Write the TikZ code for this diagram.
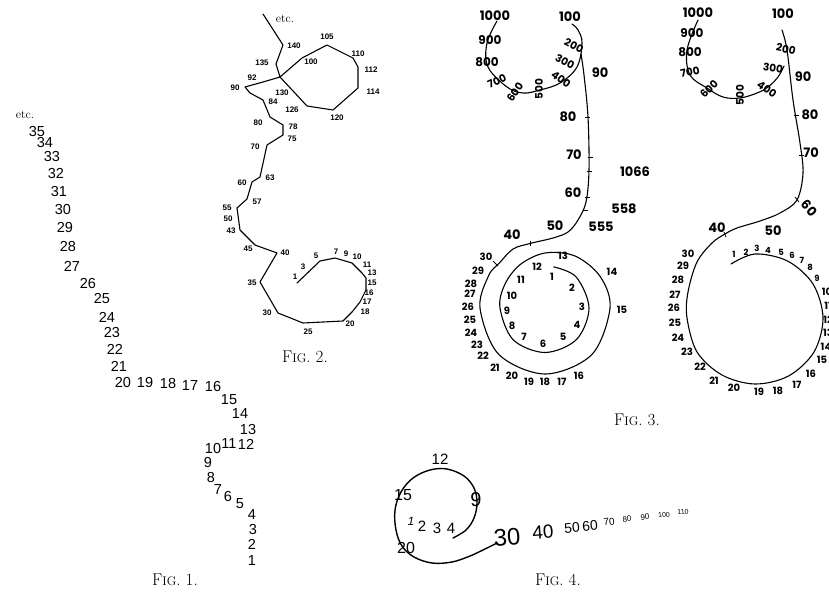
\documentclass[tikz,border=0pt]{standalone}
\usepackage{fontspec}
\newfontfamily\fontA{Liberation Sans}
\newfontfamily\fontC{Poppins}
\begin{document}
\begin{tikzpicture}[x=1pt,y=-1pt,
  lab/.style={inner sep=0pt},
  n1/.style={lab,font=\fontA\fontsize{14.5}{14.5}\selectfont},
  n2/.style={lab,font=\fontA\bfseries\fontsize{8}{8}\selectfont},
  n3/.style={lab,font=\fontC\bfseries\fontsize{10}{10}\selectfont},
  n3s/.style={lab,font=\fontC\bfseries\fontsize{8.5}{8.5}\selectfont},
  n3b/.style={lab,font=\fontC\bfseries\fontsize{13}{13}\selectfont},
  n3r/.style={lab,font=\fontC\bfseries\fontsize{10.5}{10.5}\selectfont},
  etcst/.style={lab,font=\fontsize{12}{12}\selectfont},
  capt/.style={lab,font=\fontsize{17}{17}\selectfont},
  curve/.style={line width=1.1pt,line join=round,line cap=round},
  tick/.style={line width=0.8pt}
]
\useasboundingbox (0,0) rectangle (829,591);
\clip (0,0) rectangle (829,591);

% ---------------- Fig. 1 ----------------
\node[etcst] (fa0) at (25,115) {etc.};
\foreach \t/\x/\y [count=\i] in {35/37/132,34/45/143,33/52/157,32/56/174,31/59/192,30/63/210,29/65/228,28/68/247,27/72/266,26/88/284,25/102/299,24/107/317,23/112/333,22/115/349,21/119/366,20/123/383,19/145/383,18/168/384,17/190/386,16/213/387,15/229/400,14/240/414,13/248/430,12/246/444,11/229/444,10/213/449,9/208/463,8/211/478,7/218/490,6/228/497,5/240/504,4/252/515,3/253/530,2/252/544,1/252/561}
  \node[n1] (fa\i) at (\x,\y) {\t};
\node[capt] (cap1) at (175,580) {F{\fontsize{12.5}{12.5}\selectfont IG}.\hspace{5pt}1.};

% ---------------- Fig. 2 ----------------
\draw[curve] (263,14) -- (283,45) -- (276,64) -- (280,77) -- (302,58) -- (327,45) -- (353,58) -- (358,67) -- (358,88) -- (333,110) -- (307,106) -- (280,77) -- (263,82) -- (245,87) -- (250,93) -- (263,100) -- (270,117) -- (283,125) -- (283,135) -- (267,145) -- (260,177) -- (252,182) -- (247,199) -- (237,208) -- (240,230) -- (255,245) -- (277,253) -- (260,282) -- (278,313) -- (303,323) -- (343,321) -- (352,312) -- (360,302) -- (366,290) -- (366,278) -- (362,273) -- (352,263) -- (335,258) -- (320,261) -- (297,283);
\node[etcst] (fb0) at (285,19) {etc.};
\foreach \t/\x/\y [count=\i] in {140/294/46,135/262/63,100/311/62,105/327/37,110/358/54,112/371/70,114/373/92,120/337/118,126/292/110,130/282/93,92/252/78,90/235/88,84/273/102,80/258/123,78/293/127,75/292/139,70/255/147,63/270/178,60/242/183,57/257/202,55/227/208,50/228/219,43/231/231,45/248/249,40/285/253,35/252/283,30/267/313,25/308/332,20/350/324,1/295/277,3/303/267,5/316/256,7/336/252,9/346/254,10/357/257,11/367/265,13/372/273,15/372/283,16/369/293,17/367/302,18/365/312}
  \node[n2] (fb\i) at (\x,\y) {\t};
\node[capt] (cap2) at (305,357) {F{\fontsize{12.5}{12.5}\selectfont IG}.\hspace{5pt}2.};

% ---------------- Fig. 3 (left) ----------------
\draw[curve] plot[smooth,tension=0.6] coordinates {(497,21) (487,43) (488,67) (507,87) (523,93) (540,90) (560,83) (577,67) (582,43) (578,30) (572,24)};
\draw[curve] plot[smooth,tension=0.55] coordinates {(553.7,266.9) (576.1,276.9) (589,308) (576.5,339.5) (545,352.5) (513.2,339.8) (500,308) (504.7,284.7) (520,264.7) (545,253) (575,256) (600,276.3) (610,308) (591.7,354.7) (545,374) (498.7,354.3) (480,308) (488.7,275.5) (499.7,262.7) (513,249) (530,243.5) (553,238) (568,232) (578,220) (586,202) (589,170) (588,117) (584,75) (581,54)};
\foreach \x/\y [count=\i] in {587/117,590/157,589/171,587/197,585/210}
  \draw[tick] (\x-2.5,\y) -- (\x+2.5,\y);
\draw[tick] (530,241) -- (530,246);
\draw[tick] (493,261) -- (498,266);
\foreach \t/\x/\y [count=\i] in {1/552/277,2/572/288,3/582/307,4/577/325,5/563/337,6/543/344,7/524/337,8/512/326,9/507/311,10/512/296,11/521/280,12/537/267,13/563/256,14/612/272,15/622/310,16/579/376,17/562/382,18/545/382,19/529/382,20/512/376,21/495/368,22/483/356,23/477/345,24/471/333,25/470/320,26/468/307,27/470/294,28/471/284,29/478/271,30/486/257}
  \node[n3] (fl\i) at (\x,\y) {\t};
\foreach \t/\x/\y [count=\i] in {40/512/235,50/555/226,555/601/227,558/624/209,60/573/193,1066/635/172,70/574/155,80/568/117,90/600/73,100/570/17,1000/495/16}
  \node[n3b] (fL\i) at (\x,\y) {\t};
\foreach \t/\x/\y [count=\i] in {900/490/40,800/487/62}
  \node[n3r,font=\fontC\bfseries\fontsize{12}{12}\selectfont] (fM\i) at (\x,\y) {\t};
\foreach \t/\x/\y/\r [count=\i] in {700/497/81/25,600/515/92/55,500/539/89/90,400/561/79/-36,300/565/62/-28,200/574/46/-28}
  \node[n3r,rotate=\r] (fR\i) at (\x,\y) {\t};

% ---------------- Fig. 3 (right) ----------------
\draw[curve] plot[smooth,tension=0.6] coordinates {(698,20) (687,50) (690,75) (707,88) (723,97) (740,98) (757,93) (768,87) (778,77) (784,66)};
\draw[curve] plot[smooth,tension=0.55] coordinates {(731,264) (755,254) (787.5,261) (813,284) (823,318) (814,352) (788.5,376) (755,384) (722,375) (697,352) (687,318) (688,292) (697,262) (712,243) (725,234) (737,228) (760,221) (780,213) (797,200) (803,173) (800,143) (793,100) (787,50) (782,30)};
\foreach \x/\y [count=\i] in {796/115,801/155}
  \draw[tick] (\x-2.5,\y) -- (\x+2.5,\y);
\draw[tick] (795,197) -- (799,202);
\draw[tick] (724,232) -- (726,237);
\foreach \t/\x/\y [count=\i] in {10/827/292,11/828/306,12/828/320,13/828/333,14/826/347,15/822/360,16/811/374,17/797/385,18/778/391,19/759/392,20/734/388,21/714/381,22/700/367,23/687/352,24/678/338,25/675/323,26/674/308,27/675/295,28/678/280,29/683/266,30/688/254}
  \node[n3] (gl\i) at (\x,\y) {\t};
\foreach \t/\x/\y [count=\i] in {1/734/254,2/746/252,3/757/248,4/768/250,5/781/252,6/792/255,7/802/260,8/810/267,9/817/278}
  \node[n3s] (gs\i) at (\x,\y) {\t};
\foreach \t/\x/\y [count=\i] in {40/717/228,50/773/231,70/811/153,80/810/115,90/803/77,100/783/14,1000/698/13}
  \node[n3b] (gL\i) at (\x,\y) {\t};
\foreach \t/\x/\y [count=\i] in {900/692/33,800/690/52}
  \node[n3r,font=\fontC\bfseries\fontsize{12}{12}\selectfont] (gM\i) at (\x,\y) {\t};
\node[n3b,rotate=-50] (gR0) at (809,208) {60};
\foreach \t/\x/\y/\r [count=\i] in {700/690/72/12,600/709/89/45,500/740/95/90,400/767/89/-35,300/773/68/-8,200/786/49/-12}
  \node[n3r,rotate=\r] (gR\i) at (\x,\y) {\t};
\node[capt] (cap3) at (637,420) {F{\fontsize{12.5}{12.5}\selectfont IG}.\hspace{5pt}3.};

% ---------------- Fig. 4 ----------------
\draw[curve,line width=1.4pt] plot[smooth,tension=0.6] coordinates {(453,538) (466,530) (474,518) (477,503) (474,488) (464,476) (447,469) (430,470) (413,478) (401,492) (395,510) (396,530) (402,546) (414,557) (432,563) (452,562) (470,556) (485,549) (497,543)};
\foreach \t/\x/\y/\s/\r [count=\i] in {12/440/459/15/0,15/403/495/16/0,9/476/500/20/0,2/422/526/15/0,3/437/528/15/0,4/451/528/15/0,20/406/548/16/0,30/507/537/24/4,40/543/532/19/4,50/572/528/14/4,60/590/526/14/4,70/609/522/10/5,80/627/519/8/5,90/645/517/8/5,100/664/515/7/5,110/683/512/7/5}
  \node[lab,font=\fontA\fontsize{\s}{\s}\selectfont,rotate=\r] (h\i) at (\x,\y) {\t};
\node[lab,font=\fontA\itshape\fontsize{12}{12}\selectfont] (h0) at (411,521) {1};
\node[capt] (cap4) at (558,580) {F{\fontsize{12.5}{12.5}\selectfont IG}.\hspace{5pt}4.};
\end{tikzpicture}
\end{document}
